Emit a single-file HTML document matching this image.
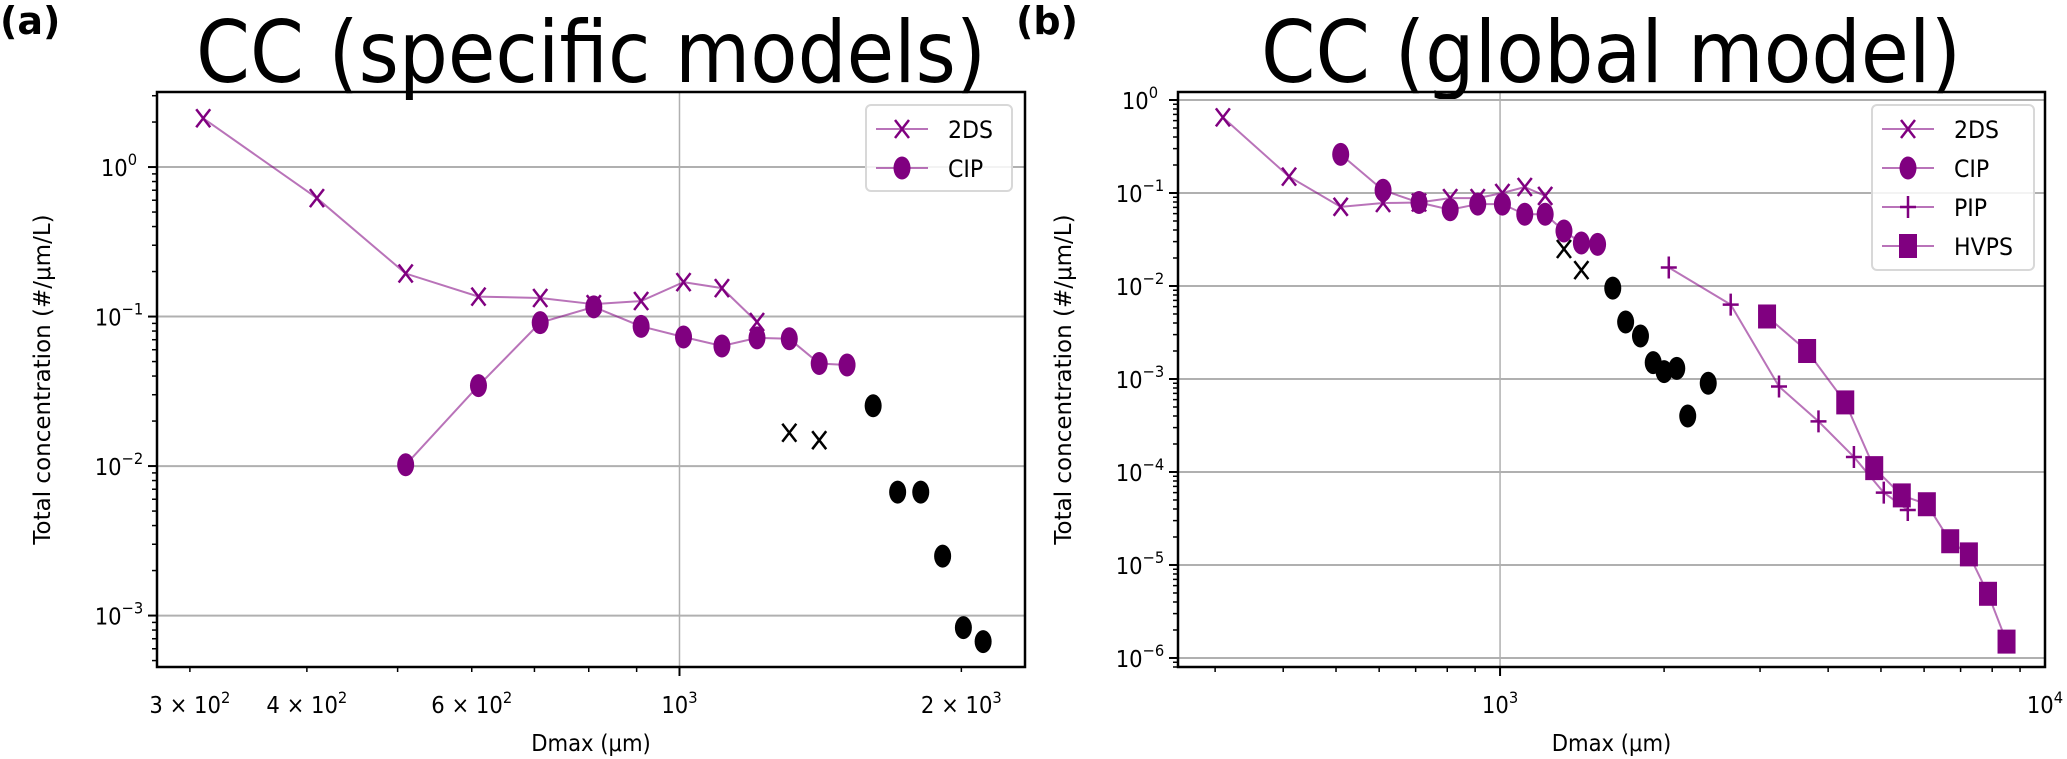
<!DOCTYPE html>
<html><head><meta charset="utf-8">
<style>
html,body{margin:0;padding:0;background:#fff;}
svg{display:block;font-family:"DejaVu Sans","Liberation Sans",sans-serif;}
</style></head>
<body>
<svg id="fig" width="2067" height="759" viewBox="0 0 2067 759" xmlns="http://www.w3.org/2000/svg">
<text x="0" y="34" font-size="38" font-weight="bold">(a)</text>
<text x="1016" y="34" font-size="38" font-weight="bold">(b)</text>
<text x="591" y="82" font-size="86" text-anchor="middle" textLength="790" lengthAdjust="spacingAndGlyphs">CC (specific models)</text>
<text x="1611" y="82" font-size="86" text-anchor="middle" textLength="700" lengthAdjust="spacingAndGlyphs">CC (global model)</text>
<g id="pa"></g>
<g id="pb"></g>
</svg>
<script>
// ---- Panel A data ----
const a2dsX = [310,410,510,610,710,810,910,1010,1110,1210];
const a2dsY = [2.12,0.62,0.194,0.136,0.133,0.121,0.127,0.170,0.155,0.092];
const aCipX = [510,610,710,810,910,1010,1110,1210,1310,1410,1510];
const aCipY = [0.0102,0.0345,0.091,0.116,0.086,0.073,0.0636,0.072,0.071,0.0485,0.0474];
const aBlackXx = [1310,1410];
const aBlackXy = [0.0167,0.0149];
const aBlackDx = [1610,1710,1810,1910,2010,2110];
const aBlackDy = [0.0253,0.0067,0.0067,0.0025,0.00083,0.00067];
const aXTicks = [300,400,600,1000,2000];
const aXTickLabels = [["3","2"],["4","2"],["6","2"],[null,"3"],["2","3"]];
const aYTicks = [0,-1,-2,-3];
// ---- Panel B data ----
const b2dsX = [310,410,510,610,710,810,910,1010,1110,1210];
const b2dsY = [0.65,0.15,0.071,0.078,0.079,0.088,0.088,0.1,0.116,0.093];
const bCipX = [510,610,710,810,910,1010,1110,1210,1310,1410,1510];
const bCipY = [0.26,0.107,0.079,0.066,0.076,0.076,0.059,0.059,0.039,0.029,0.028];
const bPipX = [2040,2650,3250,3840,4460,5060,5600];
const bPipY = [0.0158,0.0063,0.00083,0.00035,0.000145,0.00006,0.000039];
const bHvpsX = [3090,3660,4300,4860,5460,6070,6700,7250,7860,8500];
const bHvpsY = [0.0047,0.0020,0.00056,0.00011,0.000056,0.000045,0.000018,0.000013,0.0000049,0.0000015];
const bBlackXx = [1310,1410];
const bBlackXy = [0.025,0.0148];
const bBlackDx = [1610,1700,1810,1910,2000,2110,2210,2410];
const bBlackDy = [0.0095,0.0041,0.0029,0.0015,0.0012,0.0013,0.0004,0.0009];
const bXTicks = [1000,10000];
const bXTickLabels = [[null,"3"],[null,"4"]];
const bYTicks = [0,-1,-2,-3,-4,-5,-6];

const NS="http://www.w3.org/2000/svg";
const PURPLE="#800080";
function mk(parent,tag,attrs){const e=document.createElementNS(NS,tag);for(const k in attrs)e.setAttribute(k,attrs[k]);parent.appendChild(e);return e;}

function makeAxes(g,box,xr,yr){
  const sx=v=>box.l+(Math.log10(v)-xr[0])/(xr[1]-xr[0])*(box.r-box.l);
  const sy=v=>box.b-(Math.log10(v)-yr[0])/(yr[1]-yr[0])*(box.b-box.t);
  return {sx,sy};
}

function drawPanel(g,box,xr,yr,xTicks,xTickLabels,yTicks,series,blackX,blackD,legend,ylabX){
  const {sx,sy}=makeAxes(g,box,xr,yr);
  yTicks.forEach(p=>{const y=sy(Math.pow(10,p));
    const l=mk(g,'line',{x1:box.l,x2:box.r,y1:y,y2:y,stroke:'#b0b0b0','stroke-width':2});
    
    });
  for(let d=Math.floor(xr[0]);d<=Math.ceil(xr[1]);d++){const v=Math.pow(10,d);
    if(Math.log10(v)>=xr[0]&&Math.log10(v)<=xr[1]){const x=sx(v);
      const l=mk(g,'line',{x1:x,x2:x,y1:box.t,y2:box.b,stroke:'#b0b0b0','stroke-width':1.5});
      
      }}
  for(let d=Math.floor(xr[0]);d<Math.ceil(xr[1]);d++){for(let m=1;m<10;m++){const v=m*Math.pow(10,d);const lv=Math.log10(v);
    if(lv<xr[0]||lv>xr[1])continue;const x=sx(v);
    mk(g,'line',{x1:x,x2:x,y1:box.b,y2:box.b+(m==1?9:5),stroke:'#000','stroke-width':m==1?2:1.5});}}
  for(let d=Math.floor(yr[0]);d<Math.ceil(yr[1]);d++){for(let m=1;m<10;m++){const v=m*Math.pow(10,d);const lv=Math.log10(v);
    if(lv<yr[0]||lv>yr[1])continue;const y=sy(v);
    mk(g,'line',{x1:box.l,x2:box.l-(m==1?9:5),y1:y,y2:y,stroke:'#000','stroke-width':m==1?2:1.5});}}
  xTicks.forEach((v,i)=>{const x=sx(v);const lab=xTickLabels[i];
    const t=mk(g,'text',{x:x,y:box.b+46,'font-size':23,'text-anchor':'middle',transform:`translate(${x} 0) scale(0.92 1) translate(${-x} 0)`});
    
    
    t.innerHTML=(lab[0]?lab[0]+' \u00d7 ':'')+'10<tspan dy="-10" font-size="16">'+lab[1]+'</tspan>';});
  yTicks.forEach(p=>{const y=sy(Math.pow(10,p));const x=box.l-38;
    const t=mk(g,'text',{x:x,y:y+9,'font-size':23,'text-anchor':'middle',transform:`translate(${x} 0) scale(0.92 1) translate(${-x} 0)`});
    
    
    t.innerHTML='10<tspan dy="-11" font-size="16">'+(p==0?'0':'\u2212'+(-p))+'</tspan>';});
  const cx=(box.l+box.r)/2;
  const xl=mk(g,'text',{x:cx,y:box.b+84,'font-size':23,'text-anchor':'middle',transform:`translate(${cx} 0) scale(0.92 1) translate(${-cx} 0)`});
  
  
  xl.textContent='Dmax (\u03bcm)';
  const yl=mk(g,'text',{x:ylabX,y:(box.t+box.b)/2,'font-size':23,'text-anchor':'middle',transform:`rotate(-90 ${ylabX} ${(box.t+box.b)/2})`});
  
  
  yl.textContent='Total concentration (#/\u03bcm/L)';
  const cid='c'+box.l;
  const cp=mk(g,'clipPath',{id:cid});mk(cp,'rect',{x:box.l,y:box.t,width:box.r-box.l,height:box.b-box.t});
  const dg=mk(g,'g',{'clip-path':`url(#${cid})`});
  function marker(parent,kind,x,y,color){
    let m;
    if(kind=='x'){m=mk(parent,'path',{d:`M${x-7} ${y-9}L${x+7} ${y+9}M${x-7} ${y+9}L${x+7} ${y-9}`,stroke:color,'stroke-width':2.5,fill:'none'});}
    else if(kind=='o'){m=mk(parent,'ellipse',{cx:x,cy:y,rx:8.5,ry:11.5,fill:color});}
    else if(kind=='+'){m=mk(parent,'path',{d:`M${x-8} ${y}L${x+8} ${y}M${x} ${y-11}L${x} ${y+11}`,stroke:color,'stroke-width':2.5,fill:'none'});}
    else {m=mk(parent,'rect',{x:x-9,y:y-12,width:18,height:24,fill:color});}
    return m;
  }
  series.forEach(s=>{
    const sg=mk(dg,'g',{});
    
    
    const pts=s.x.map((v,i)=>[sx(v),sy(s.y[i])]);
    const pl=mk(sg,'polyline',{points:pts.map(p=>p.join(',')).join(' '),fill:'none',stroke:PURPLE,'stroke-opacity':0.55,'stroke-width':2});
    
    
    pts.forEach(p=>{const m=marker(sg,s.kind,p[0],p[1],PURPLE);
      
      });
  });
  blackX[0].forEach((v,i)=>{const m=marker(dg,'x',sx(v),sy(blackX[1][i]),'#000');
    
    });
  blackD[0].forEach((v,i)=>{const m=marker(dg,'o',sx(v),sy(blackD[1][i]),'#000');
    
    });
  mk(g,'rect',{x:box.l,y:box.t,width:box.r-box.l,height:box.b-box.t,fill:'none',stroke:'#000','stroke-width':2.5});
  const lg=mk(g,'g',{});
  
  
  mk(lg,'rect',{x:legend.x,y:legend.y,width:legend.w,height:legend.h,rx:5,fill:'#fff','fill-opacity':0.85,stroke:'#d8d8d8','stroke-width':2});
  series.forEach((s,i)=>{const y=legend.y+24+i*legend.step;
    const e=mk(lg,'g',{});
    
    
    mk(e,'line',{x1:legend.x+10,x2:legend.x+62,y1:y,y2:y,stroke:PURPLE,'stroke-opacity':0.55,'stroke-width':2});
    marker(e,s.kind,legend.x+36,y,PURPLE);
    const tx=legend.x+82;
    const t=mk(e,'text',{x:tx,y:y+9,'font-size':24,transform:`translate(${tx} 0) scale(0.92 1) translate(${-tx} 0)`});t.textContent=s.name;});
}

drawPanel(document.getElementById('pa'),{l:157,r:1025,t:92,b:667},[2.442,3.369],[-3.344,0.502],
  aXTicks,aXTickLabels,aYTicks,
  [{name:'2DS',kind:'x',x:a2dsX,y:a2dsY},{name:'CIP',kind:'o',x:aCipX,y:aCipY}],
  [aBlackXx,aBlackXy],[aBlackDx,aBlackDy],{x:866,y:105,w:146,h:86,step:39},50);
drawPanel(document.getElementById('pb'),{l:1178,r:2045,t:92,b:667},[2.409,4.0],[-6.097,0.086],
  bXTicks,bXTickLabels,bYTicks,
  [{name:'2DS',kind:'x',x:b2dsX,y:b2dsY},{name:'CIP',kind:'o',x:bCipX,y:bCipY},{name:'PIP',kind:'+',x:bPipX,y:bPipY},{name:'HVPS',kind:'s',x:bHvpsX,y:bHvpsY}],
  [bBlackXx,bBlackXy],[bBlackDx,bBlackDy],{x:1872,y:105,w:162,h:165,step:39},1071);
</script>
</body></html>
